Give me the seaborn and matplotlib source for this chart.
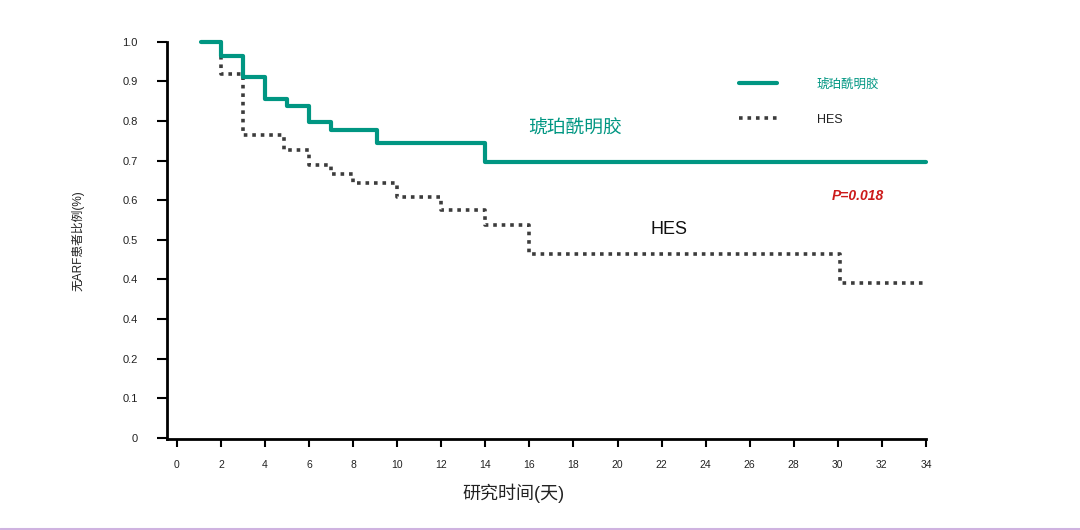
import matplotlib
matplotlib.use("Agg")
import matplotlib.pyplot as plt
import seaborn as sns
import pandas as pd

# ---- data ----
gel_time = [1.1, 2.0, 3.0, 4.0, 5.0, 6.0, 7.0, 9.1, 14.0, 34.0]
gel_surv = [1.0, 0.964, 0.912, 0.855, 0.838, 0.798, 0.777, 0.745, 0.697, 0.697]

hes_time = [1.1, 2.0, 3.0, 4.85, 6.0, 7.0, 8.0, 10.0, 12.0, 14.0, 16.0, 30.1, 34.0]
hes_surv = [1.0, 0.918, 0.765, 0.727, 0.689, 0.665, 0.643, 0.609, 0.574, 0.537, 0.464, 0.392, 0.392]

series_names = ["琥珀酰明胶", "HES"]
x_ticks = list(range(0, 35, 2))
y_ticks = [0, 0.1, 0.2, 0.3, 0.4, 0.5, 0.6, 0.7, 0.8, 0.9, 1.0]
y_ticklabels = ["0", "0.1", "0.2", "0.4", "0.4", "0.5", "0.6", "0.7", "0.8", "0.9", "1.0"]
p_text = "P=0.018"
x_label = "研究时间(天)"
y_label = "无ARF患者比例(%)"

TEAL = "#009682"
GRAY = "#3c3c3c"

sns.set_theme(style="white")
plt.rcParams["font.family"] = ["Liberation Sans", "Noto Sans CJK SC", "DejaVu Sans"]

fig = plt.figure(figsize=(10.8, 5.3), dpi=100)
ax = fig.add_axes([167 / 1080, 1 - 439 / 530, (926 - 167) / 1080, (439 - 41.7) / 530])

df_gel = pd.DataFrame({"time": gel_time, "surv": gel_surv})
df_hes = pd.DataFrame({"time": hes_time, "surv": hes_surv})

sns.lineplot(data=df_hes, x="time", y="surv", ax=ax, color=GRAY, lw=2.6,
             drawstyle="steps-post", label=series_names[1], zorder=2)
sns.lineplot(data=df_gel, x="time", y="surv", ax=ax, color=TEAL, lw=3.0,
             drawstyle="steps-post", label=series_names[0], zorder=3)

lines = ax.get_lines()
hes_line, gel_line = lines[0], lines[1]
hes_line.set_linestyle((0, (1.0, 1.35)))
hes_line.set_dash_capstyle("butt")
for ln in lines:
    ln.set_clip_on(False)

ax.set_xlim(-0.45, 34)
ax.set_ylim(-0.003, 1.0)
ax.set_xticks(x_ticks)
ax.set_xticklabels([str(v) for v in x_ticks], fontsize=7.5)
ax.set_yticks(y_ticks)
ax.set_yticklabels(y_ticklabels, fontsize=8)

for s in ["top", "right"]:
    ax.spines[s].set_visible(False)
for s in ["left", "bottom"]:
    ax.spines[s].set_linewidth(2.0)
    ax.spines[s].set_color("black")

ax.tick_params(axis="y", direction="out", length=7, width=1.5, pad=14, colors="black", left=True)
ax.tick_params(axis="x", direction="out", length=6, width=1.5, pad=9, colors="black", bottom=True)
for lbl in ax.get_xticklabels() + ax.get_yticklabels():
    lbl.set_color("#222222")

ax.set_xlabel(x_label, fontsize=13, color="#222222")
ax.xaxis.set_label_coords((514 - 167) / 759, -(493 - 439) / 397.3)
ax.xaxis.label.set_verticalalignment("center")
ax.set_ylabel(y_label, fontsize=8.5, color="#222222")
ax.yaxis.set_label_coords((78 - 167) / 759, 0.5)
ax.yaxis.label.set_verticalalignment("center")

# in-plot annotations
ax.text(18.07, 0.78, series_names[0], color=TEAL, fontsize=13.5, ha="center", va="center")
ax.text(22.33, 0.525, series_names[1], color="#111111", fontsize=13, ha="center", va="center")
ax.text(30.9, 0.61, p_text, color="#cc1a1a", fontsize=10, fontweight="bold",
        fontstyle="italic", ha="center", va="center")

# legend
handles = [gel_line, hes_line]
leg = ax.legend(handles, series_names, loc="upper left",
                bbox_to_anchor=(733 / 1080, 1 - 72 / 530), bbox_transform=fig.transFigure,
                frameon=False, fontsize=9, handlelength=3.0, handletextpad=3.2,
                labelspacing=1.85, borderpad=0)
texts = leg.get_texts()
texts[0].set_color(TEAL)
texts[1].set_color("#222222")

# purple rule at the bottom
fig.add_artist(plt.Line2D([0, 1], [1.5 / 530, 1.5 / 530], transform=fig.transFigure,
                          color="#cfb3e0", lw=2.2))

fig.savefig("out.png", dpi=100, facecolor="white")
